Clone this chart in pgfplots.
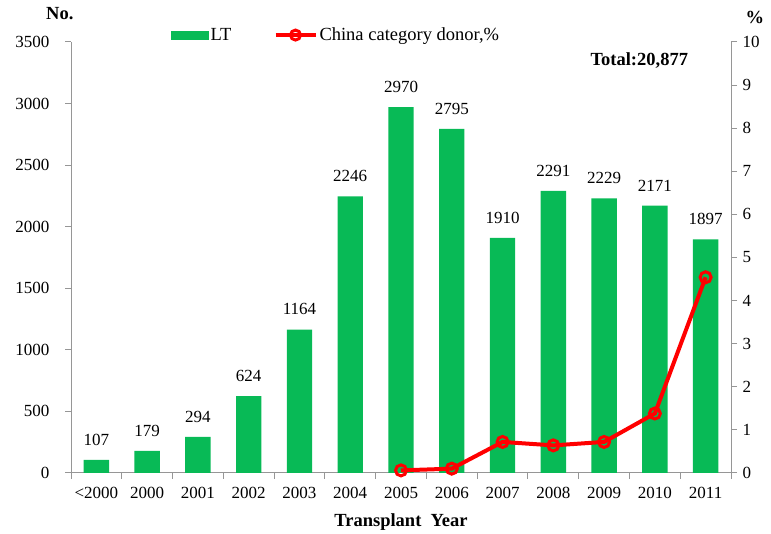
\documentclass[border=0pt]{standalone}
\usepackage{pgfplots}
\pgfplotsset{compat=1.18}
\usepackage{fontspec}
\setmainfont{Liberation Serif}
\definecolor{bargreen}{RGB}{8,186,86}
\definecolor{axgray}{RGB}{150,150,150}
\newcommand{\tickfont}{\fontsize{17bp}{20bp}\selectfont}
\newcommand{\bigfont}{\fontsize{18.5bp}{22bp}\selectfont}
\begin{document}
\begin{tikzpicture}
\pgfplotsset{
  every axis/.append style={font=\tickfont},
  /pgf/number format/assume math mode=true,
  /pgf/number format/1000 sep={},
}
\begin{axis}[
  scale only axis, width=660bp, height=431bp,
  xmin=-0.5, xmax=12.5, ymin=0, ymax=3500,
  axis y line*=left, axis x line*=bottom,
  axis line style={-, axgray, line width=1bp},
  tick align=outside, major tick length=6bp, minor tick length=6bp,
  every tick/.style={axgray, line width=1bp},
  ytick={0,500,...,3500},
  yticklabel style={xshift=-12bp},
  xtick={0,...,12},
  xticklabels={<2000,2000,2001,2002,2003,2004,2005,2006,2007,2008,2009,2010,2011},
  xticklabel style={yshift=-5bp},
  major x tick style={draw=none},
  minor xtick={-0.5,0.5,...,12.5},
  ybar, bar width=0.5,
  nodes near coords,
  every node near coord/.append style={anchor=south, yshift=11bp, black, font=\tickfont},
  clip=false,
]
\addplot[fill=bargreen, draw=none] coordinates {
(0,107) (1,179) (2,294) (3,624) (4,1164) (5,2246) (6,2970) (7,2795) (8,1910) (9,2291) (10,2229) (11,2171) (12,1897)};
\node[font=\bfseries\bigfont] at (axis description cs:-0.017,1.067) {No.};
\node[font=\bfseries\bigfont] at (axis description cs:0.861,0.958) {Total:20,877};
\node[font=\bfseries\bigfont] at (axis description cs:0.5,-0.113) {Transplant\ \ Year};
\end{axis}
\begin{axis}[
  scale only axis, width=660bp, height=431bp,
  xmin=-0.5, xmax=12.5, ymin=0, ymax=10,
  axis y line*=right, axis x line=none,
  axis line style={-, axgray, line width=1bp},
  tick align=outside, major tick length=6bp,
  every tick/.style={axgray, line width=1bp},
  ytick={0,1,...,10},
  yticklabel style={xshift=2bp},
  clip=false,
  legend style={draw=none, fill=none, at={(axis description cs:0.147,1.016)}, anchor=west,
    legend columns=2, /tikz/every even column/.append style={column sep=40bp},
    font=\bigfont},
]
\addlegendimage{legend image code/.code={\fill[bargreen] (0bp,-4bp) rectangle (37bp,4bp);}}
\addlegendentry{LT}
\addplot[red, line width=4bp, mark=o, mark size=5.5bp, mark options={line width=3bp, fill=none},
  legend image code/.code={\draw[red, line width=4bp] (0bp,0bp) -- (40bp,0bp); \draw[red, line width=3bp] (20bp,0bp) circle (5bp);}]
  coordinates {(6,0.06) (7,0.10) (8,0.72) (9,0.64) (10,0.72) (11,1.38) (12,4.54)};
\addlegendentry{China category donor,\%}
\node[font=\bfseries\bigfont] at (axis description cs:1.036,1.056) {\%};
\path (axis description cs:-0.1076,-0.1415) rectangle (axis description cs:1.0606,1.0974);
\end{axis}
\end{tikzpicture}
\end{document}
